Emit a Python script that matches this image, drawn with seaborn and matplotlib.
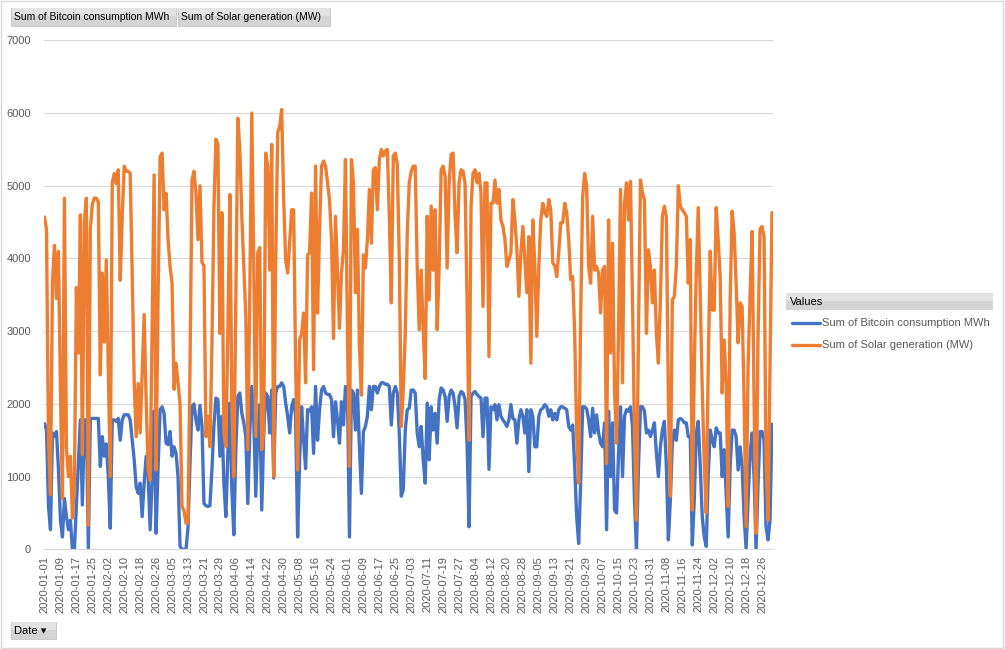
import numpy as np
import pandas as pd
import matplotlib
matplotlib.use("Agg")
import matplotlib.pyplot as plt
import seaborn as sns
from matplotlib.patches import Rectangle
from matplotlib.lines import Line2D

# ---------------- data ----------------
start_date = "2020-01-01"
series_names = ["Sum of Bitcoin consumption MWh", "Sum of Solar generation (MW)"]
series_colors = ["#4472C4", "#ED7D31"]
y_ticks = [0, 1000, 2000, 3000, 4000, 5000, 6000, 7000]
tick_every_days = 8

bitcoin_mwh = [
    1730, 1650, 600, 270, 1600, 1550, 1620, 1100, 400, 170,
    700, 450, 270, 400, 0, 0, 600, 1190, 1780, 610,
    1780, 1780, 0, 1800, 1800, 1800, 1800, 1800, 1140, 1550,
    1280, 1450, 1000, 290, 1780, 1780, 1760, 1800, 1500, 1780,
    1850, 1850, 1850, 1780, 1500, 1230, 860, 770, 910, 450,
    910, 1280, 1000, 270, 950, 1900, 220, 1140, 1920, 1960,
    1870, 1460, 1440, 1620, 1280, 1410, 1320, 1000, 40, 0,
    0, 0, 300, 1180, 1960, 2000, 1780, 1640, 1980, 1700,
    630, 600, 590, 600, 1100, 1700, 2080, 2060, 1280, 1830,
    910, 450, 1320, 2010, 820, 200, 1370, 2100, 2150, 1870,
    1740, 1550, 630, 1600, 2240, 1780, 730, 1600, 1990, 540,
    1600, 2150, 2100, 1600, 2190, 980, 2150, 2240, 2240, 2290,
    2240, 2010, 1830, 1600, 1960, 2060, 1830, 170, 1230, 1960,
    1500, 1110, 1920, 1900, 1960, 1320, 2240, 1500, 1920, 2190,
    2240, 2150, 2130, 2130, 2060, 1550, 2030, 1780, 1460, 2030,
    1710, 2240, 2150, 170, 2190, 2150, 1640, 2190, 1410, 770,
    1620, 1690, 1830, 2240, 1920, 2240, 2240, 2150, 2240, 2290,
    2290, 2270, 2270, 2240, 1710, 2150, 2240, 2150, 1600, 730,
    820, 1640, 1920, 1940, 2190, 2190, 2150, 1600, 1410, 1690,
    1230, 910, 2010, 1230, 1960, 1640, 1870, 1460, 2060, 2220,
    2190, 2100, 1760, 2100, 2190, 2150, 1960, 1670, 2100, 2170,
    2150, 2060, 1460, 310, 2100, 2150, 2170, 2130, 2100, 2080,
    1550, 2080, 2080, 1100, 1960, 1920, 1990, 1780, 1990, 1830,
    1780, 1740, 1690, 1780, 1990, 1800, 1780, 1460, 1780, 1920,
    1830, 1600, 1920, 1070, 1920, 1830, 1410, 1410, 1830, 1920,
    1940, 1990, 1960, 1830, 1920, 1780, 1870, 1780, 1920, 1960,
    1960, 1940, 1920, 1690, 1640, 1710, 1140, 450, 80, 910,
    1960, 1960, 1930, 1780, 1550, 1940, 1600, 1850, 1600, 1460,
    1410, 1740, 270, 1900, 1000, 1740, 540, 500, 1320, 1960,
    1000, 1830, 1920, 1900, 1960, 1690, 680, 0, 1140, 1960,
    1960, 1900, 1600, 1640, 1550, 1640, 1740, 1320, 1000, 1410,
    1640, 1760, 1140, 130, 680, 1460, 1640, 1500, 1780, 1800,
    1780, 1740, 1740, 1550, 1550, 60, 680, 1600, 1760, 1140,
    450, 170, 40, 1000, 1640, 1500, 1410, 1670, 1600, 1600,
    1000, 1370, 770, 170, 1140, 1640, 1640, 1550, 1090, 1410,
    1140, 450, 10, 680, 1320, 1600, 1000, 0, 910, 1620,
    1620, 1500, 310, 130, 400, 1720,
]

solar_mw = [
    4570, 4400, 1500, 750, 3700, 4180, 3450, 4100, 2200, 700,
    4830, 1400, 1000, 1280, 430, 900, 3600, 2700, 4600, 1300,
    4500, 4830, 330, 4400, 4750, 4830, 4830, 4780, 2400, 3800,
    2850, 3980, 2500, 1000, 5040, 5170, 5030, 5220, 3700, 4580,
    5270, 5200, 5200, 5170, 3800, 2300, 1550, 2280, 1600, 2400,
    3230, 2050, 1100, 950, 3000, 5150, 1090, 3500, 5400, 5450,
    4670, 4900, 4260, 3890, 3660, 2200, 2560, 2290, 2000, 590,
    530, 360, 360, 2500, 5080, 5200, 4900, 4260, 5000, 3950,
    3900, 1550, 1830, 1410, 2800, 4700, 5640, 5570, 2970, 4630,
    1600, 1410, 3000, 4880, 2000, 1000, 3430, 5930, 5500, 4580,
    3890, 3200, 1370, 3500, 6000, 3890, 1550, 4080, 4150, 1370,
    1600, 5450, 5270, 3840, 5570, 1000, 3980, 5730, 5820, 6050,
    4810, 3980, 3800, 4210, 4670, 4670, 2520, 1090, 2880, 2970,
    3250, 2290, 4050, 4080, 4900, 2470, 5270, 3250, 4400, 5270,
    5340, 5270, 5040, 4810, 4260, 2900, 4580, 3800, 3040, 3800,
    4120, 5360, 2970, 1140, 5360, 5040, 3530, 4400, 2800, 2120,
    4050, 3870, 4260, 4950, 4210, 5220, 5250, 4670, 5360, 5500,
    5410, 5480, 5500, 4580, 3390, 5410, 5450, 5300, 4000, 1690,
    2200, 2970, 4350, 5040, 5200, 5270, 5270, 3890, 3020, 3840,
    3020, 2350, 4580, 3430, 4720, 3840, 4670, 3020, 3890, 5220,
    5270, 5130, 3870, 5040, 5430, 5450, 4580, 4080, 5040, 5220,
    5200, 5040, 3430, 1500, 4720, 5170, 5220, 5040, 5170, 4900,
    3340, 5040, 5040, 2650, 4760, 4760, 5080, 4760, 4950, 4530,
    4440, 4260, 3890, 3980, 4080, 4810, 4530, 4120, 3480, 4080,
    4440, 3980, 3530, 4300, 2560, 4530, 3890, 2930, 3890, 4530,
    4760, 4630, 4580, 4810, 4670, 3940, 3900, 3750, 4080, 4490,
    4490, 4760, 4630, 4260, 3710, 3750, 2970, 1600, 910, 3200,
    4850, 5170, 5000, 3890, 3660, 4580, 3840, 3890, 3800, 3250,
    3840, 3890, 1180, 4530, 2700, 4210, 2190, 1460, 2970, 4950,
    2290, 4760, 5040, 4530, 5060, 3430, 1600, 400, 2970, 5080,
    4900, 4810, 2970, 4120, 3890, 3390, 3840, 2970, 2560, 3430,
    4580, 4720, 4580, 2060, 730, 3430, 3480, 3890, 5000, 4720,
    4670, 4630, 4580, 3660, 4260, 540, 2500, 3800, 4700, 3500,
    2200, 1200, 500, 2500, 4100, 3290, 3290, 4700, 4260, 3750,
    2150, 2880, 2290, 590, 3430, 4650, 4350, 3660, 2840, 3390,
    3340, 2060, 310, 2520, 3500, 4370, 2060, 220, 2970, 4400,
    4440, 4300, 1200, 400, 2500, 4630,
]

# ---------------- build table ----------------
n = len(bitcoin_mwh)
dates = pd.date_range(start_date, periods=n, freq="D")
day_idx = np.arange(n)
df = pd.concat([
    pd.DataFrame({"day": day_idx, "value": bitcoin_mwh, "series": series_names[0]}),
    pd.DataFrame({"day": day_idx, "value": solar_mw, "series": series_names[1]}),
], ignore_index=True)

# ---------------- style ----------------
sns.set_theme(style="white")
plt.rcParams["font.family"] = ["Liberation Sans", "DejaVu Sans"]
TXT = "#595959"

W, H = 1005, 649
fig = plt.figure(figsize=(W / 100, H / 100), dpi=100)
fig.patch.set_facecolor("white")

def fx(px):
    return px / W

def fy(py):
    return 1 - py / H

ax_l, ax_r, ax_t, ax_b = 43.5, 773, 40.4, 549.3
ax = fig.add_axes([fx(ax_l), fy(ax_b), fx(ax_r - ax_l), (ax_b - ax_t) / H])

sns.lineplot(data=df, x="day", y="value", hue="series",
             palette=dict(zip(series_names, series_colors)),
             linewidth=2.4, ax=ax, legend=False, estimator=None,
             solid_joinstyle="round", solid_capstyle="round")

ax.set_xlim(-0.5, n - 0.5)
ax.set_ylim(y_ticks[0], y_ticks[-1])
ax.set_yticks(y_ticks)
ax.set_yticklabels([str(v) for v in y_ticks], fontsize=8, color=TXT)
tick_pos = day_idx[::tick_every_days]
ax.set_xticks(tick_pos)
ax.set_xticklabels([dates[i].strftime("%Y-%m-%d") for i in tick_pos],
                   rotation=90, fontsize=8, color=TXT)
ax.tick_params(axis="both", length=0)
ax.tick_params(axis="y", pad=9)
ax.tick_params(axis="x", pad=5)
ax.set_xlabel("")
ax.set_ylabel("")
ax.grid(axis="y", color="#d9d9d9", linewidth=0.8)
ax.set_axisbelow(True)
for s in ["top", "right", "left"]:
    ax.spines[s].set_visible(False)
ax.spines["bottom"].set_color("#d9d9d9")
ax.spines["bottom"].set_linewidth(0.8)

# ---------------- pivot field buttons ----------------
def button(x0, y0, x1, y1, text, fs=7.5, family=None):
    fig.patches.append(Rectangle((fx(x0), fy(y1)), fx(x1 - x0), (y1 - y0) / H,
                                 transform=fig.transFigure, facecolor="#d4d4d4",
                                 edgecolor="#c4c4c4", linewidth=0.6))
    fig.patches.append(Rectangle((fx(x0 + 0.5), fy(y0 + (y1 - y0) * 0.45)), fx(x1 - x0 - 1),
                                 (y1 - y0) * 0.45 / H, transform=fig.transFigure,
                                 facecolor="#e3e3e3", edgecolor="none"))
    kw = {} if family is None else {"family": family}
    fig.text(fx(x0 + 3), fy((y0 + y1) / 2), text, fontsize=fs, color="black",
             va="center", ha="left", **kw)

button(11, 8, 176, 25.5, series_names[0])
button(178, 8, 330, 25.5, series_names[1])
button(11, 622, 56, 639, "Date \u25BE", fs=8, family=["Liberation Sans", "DejaVu Sans"])

# ---------------- legend ----------------
fig.patches.append(Rectangle((fx(786), fy(310)), fx(207), 17 / H, transform=fig.transFigure,
                             facecolor="#d4d4d4", edgecolor="none"))
fig.patches.append(Rectangle((fx(786), fy(301)), fx(207), 8 / H, transform=fig.transFigure,
                             facecolor="#e3e3e3", edgecolor="none"))
fig.text(fx(790), fy(301.5), "Values", fontsize=8, color="black", va="center", ha="left")
for yy, name, col in zip([323, 345], series_names, series_colors):
    fig.lines.append(Line2D([fx(792), fx(820)], [fy(yy), fy(yy)], transform=fig.transFigure,
                            color=col, linewidth=2.4, solid_capstyle="round"))
    fig.text(fx(822), fy(yy), name, fontsize=8, color=TXT, va="center", ha="left")

# outer border
fig.patches.append(Rectangle((0.0005, 0.0008), 0.998, 0.998, transform=fig.transFigure,
                             facecolor="none", edgecolor="#d9d9d9", linewidth=1.0))

fig.savefig("out.png", dpi=100)
